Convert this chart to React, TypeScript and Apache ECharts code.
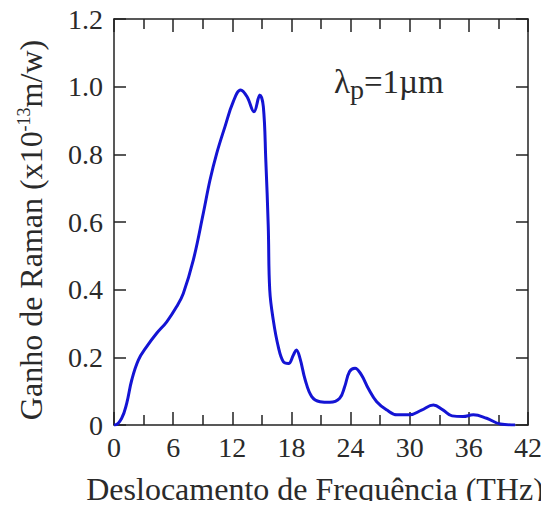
import React, { useEffect, useRef } from "react";
import * as echarts from "echarts";

const freqTHz = [
  0, 0.1, 0.78, 1.29, 1.8, 2.47, 3.3, 4.33, 5.35, 6.36, 7.03, 8.05, 9.06, 9.74,
  10.42, 11.26, 12.1, 12.85, 13.5, 14.2, 14.8, 15.15, 15.4, 15.65, 15.8, 16.16,
  16.67, 17.18, 17.7, 18.2, 18.5, 18.87, 19.4, 20.06, 20.9, 21.9, 22.9, 23.4,
  23.9, 24.45, 25.1, 25.8, 26.65, 27.7, 28.7, 30.0, 31.2, 32.4, 33.4, 34.3,
  35.4, 36.45, 37.8, 39.2, 40.7,
];
const gain = [
  0, 0, 0.02, 0.064, 0.133, 0.192, 0.231, 0.271, 0.305, 0.35, 0.389, 0.488,
  0.626, 0.724, 0.803, 0.882, 0.956, 0.99, 0.97, 0.926, 0.975, 0.941, 0.783,
  0.586, 0.399, 0.31, 0.231, 0.187, 0.182, 0.207, 0.222, 0.197, 0.133, 0.084,
  0.069, 0.067, 0.079, 0.113, 0.158, 0.168, 0.148, 0.108, 0.069, 0.044, 0.03,
  0.03, 0.044, 0.059, 0.044, 0.027, 0.025, 0.03, 0.02, 0.003, 0,
];

const xTicks = [0, 6, 12, 18, 24, 30, 36, 42];
const yTicks = [0, 0.2, 0.4, 0.6, 0.8, 1.0, 1.2];

const FONT = "Liberation Serif";
const TXT = "#2a2a2a";

export default function App() {
  const ref = useRef<HTMLDivElement>(null);
  useEffect(() => {
    if (!ref.current) return;
    const chart = echarts.init(ref.current, undefined, { renderer: "svg" });
    const axisLine = { show: true, onZero: false, lineStyle: { color: "#222", width: 1.5 } };
    const tickStyle = { color: "#222", width: 1.5 };
    const data = freqTHz.map((x, i) => [x, gain[i]]);
    const xBase = {
      type: "value",
      min: xTicks[0],
      max: xTicks[xTicks.length - 1],
      interval: 6,
      axisLine,
      axisTick: { show: true, inside: true, length: 13, lineStyle: tickStyle },
      minorTick: { show: true, splitNumber: 2, length: 10, lineStyle: tickStyle },
      splitLine: { show: false },
      minorSplitLine: { show: false },
    };
    const yBase = {
      type: "value",
      min: yTicks[0],
      max: yTicks[yTicks.length - 1],
      interval: 0.2,
      axisLine,
      axisTick: { show: true, inside: true, length: 12, lineStyle: tickStyle },
      splitLine: { show: false },
    };
    chart.setOption({
      animation: false,
      backgroundColor: "#fff",
      grid: { left: 114, top: 19, width: 414, height: 406, containLabel: false },
      xAxis: [
        {
          ...xBase,
          position: "bottom",
          axisLabel: {
            show: true,
            margin: 8,
            fontFamily: FONT,
            fontSize: 28,
            color: TXT,
            showMinLabel: true,
            showMaxLabel: true,
          },
        },
        { ...xBase, position: "top", axisLabel: { show: false } },
      ],
      yAxis: [
        {
          ...yBase,
          position: "left",
          axisLabel: {
            show: true,
            margin: 11,
            fontFamily: FONT,
            fontSize: 28,
            color: TXT,
            formatter: (v: number) => (v === 0 ? "0" : v.toFixed(1)),
          },
        },
        { ...yBase, position: "right", axisLabel: { show: false } },
      ],
      series: [
        {
          type: "line",
          data,
          smooth: 0.4,
          showSymbol: false,
          symbol: "none",
          lineStyle: { color: "#1414d4", width: 3 },
          xAxisIndex: 0,
          yAxisIndex: 0,
        },
      ],
      graphic: [
        {
          type: "text",
          x: 315,
          y: 489,
          style: {
            text: "Deslocamento de Frequência (THz)",
            fontFamily: FONT,
            fontSize: 32,
            fill: TXT,
            align: "center",
            verticalAlign: "middle",
          },
        },
        {
          type: "text",
          x: 31,
          y: 230,
          rotation: Math.PI / 2,
          style: {
            text: "{a|Ganho de Raman (x10}{s|-13}{a|m/w)}",
            align: "center",
            verticalAlign: "middle",
            fill: TXT,
            rich: {
              a: { fontFamily: FONT, fontSize: 32, fill: TXT },
              s: { fontFamily: FONT, fontSize: 18, fill: TXT, verticalAlign: "top" },
            },
          },
        },
        {
          type: "text",
          x: 334,
          y: 82,
          style: {
            text: "{a|λ}{p|p}{a|=1µm}",
            align: "left",
            verticalAlign: "middle",
            fill: TXT,
            rich: {
              a: { fontFamily: FONT, fontSize: 33, fill: TXT },
              p: { fontFamily: FONT, fontSize: 28, fill: TXT, verticalAlign: "bottom", padding: [14, 0, 0, 0] },
            },
          },
        },
      ],
    });
    return () => chart.dispose();
  }, []);
  return <div ref={ref} style={{ width: 549, height: 509, margin: -8 }} />;
}
